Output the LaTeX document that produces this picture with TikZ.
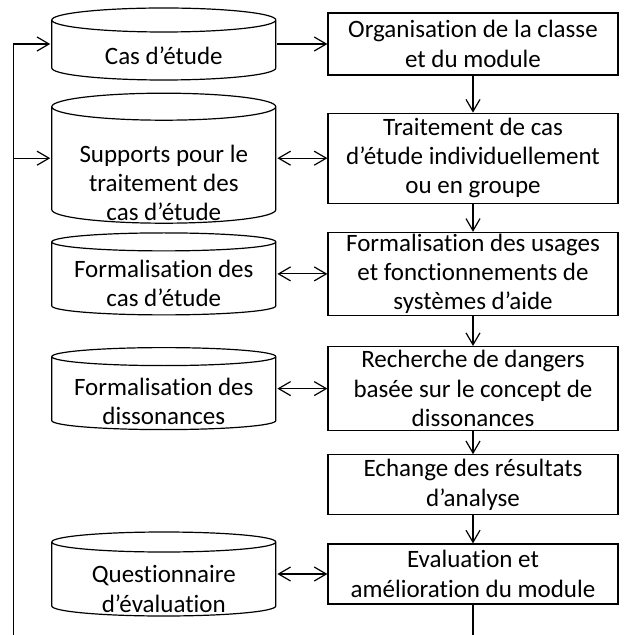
\documentclass[tikz,border=0pt]{standalone}
\usepackage{fontspec}
\setmainfont{Carlito}[Ligatures={TeX,NoCommon}]
\usetikzlibrary{positioning, arrows.meta}

\tikzset{cap radius/.store in=\caprad, cap radius=5.5pt}

\begin{document}
\begin{tikzpicture}[>={Straight Barb[length=6pt,width=7pt]}, line width=0.6pt]
\tikzstyle{actblock}=[draw, minimum width=145pt, align=center, inner xsep=1pt, inner ysep=0pt,
font=\fontsize{12.5}{14.6}\selectfont]
\tikzstyle{storetext}=[align=center, inner sep=0pt, font=\fontsize{12.5}{14.6}\selectfont]
\tikzstyle{datastore}=[minimum width=113pt, inner sep=0pt, node distance=25pt, path picture={
    \draw ([xshift=-56pt,yshift=-\caprad-0.5pt]path picture bounding box.north)
      -- ([xshift=-56pt,yshift=\caprad+0.5pt]path picture bounding box.south)
      arc[start angle=180, end angle=360, x radius=56pt, y radius=\caprad]
      -- ([xshift=56pt,yshift=-\caprad-0.5pt]path picture bounding box.north)
      arc[start angle=0, end angle=360, x radius=56pt, y radius=\caprad];
  }]

\useasboundingbox (0,0) rectangle (311.5pt,-317.5pt);

% activities
\node (org) [actblock, minimum height=31pt] at (236.5pt,-22pt) {Organisation de la classe\\et du module};
\node (trait) [actblock, minimum height=45pt, below=18.5pt of org] {Traitement de cas\\d’étude individuellement\\ou en groupe};
\node (usages) [actblock, minimum height=41.5pt, below=14pt of trait] {Formalisation des usages\\et fonctionnements de\\systèmes d’aide};
\node (danger) [actblock, minimum height=42pt, below=15pt of usages] {Recherche de dangers\\basée sur le concept de\\dissonances};
\node (echange) [actblock, minimum height=30pt, below=11.5pt of danger] {Echange des résultats\\d’analyse};
\node (eval) [actblock, minimum height=30pt, below=14pt of echange] {Evaluation et\\amélioration du module};

% data
\node (cas) [datastore, minimum height=37pt, cap radius=6pt, left=of org,
  label={[storetext, yshift=-6pt]center:Cas d’étude}] {};
\node (supp) [datastore, minimum height=66pt, cap radius=6.75pt, left=of trait,
  label={[storetext, yshift=-12.5pt]center:Supports pour le\\traitement des\\cas d’étude}] {};
\node (fcas) [datastore, minimum height=42pt, cap radius=4.5pt, left=of usages,
  label={[storetext, yshift=-4.75pt]center:Formalisation des\\cas d’étude}] {};
\node (fdis) [datastore, minimum height=42pt, cap radius=4.5pt, left=of danger,
  label={[storetext, yshift=-6.5pt]center:Formalisation des\\dissonances}] {};
\node (quest) [datastore, minimum height=43pt, cap radius=5pt, left=of eval,
  label={[storetext, yshift=-7.5pt]center:Questionnaire\\d’évaluation}] {};

% connections
\draw[->] (org) -- (trait);
\draw[->] (trait) -- (usages);
\draw[->] (usages) -- (danger);
\draw[->] (danger) -- (echange);
\draw[->] (echange) -- (eval);
\draw[->] (cas) -- (org);
\draw[<->] (supp) -- (trait);
\draw[<->] (fcas) -- (usages);
\draw[<->] (fdis) -- (danger);
\draw[<->] (quest) -- (eval);

% loop back
\coordinate (fb1) at ([xshift=-18.5pt]cas.west);
\coordinate (fb2) at (fb1 |- supp.west);
\coordinate (fbend) at (fb1 |- 0,-317.5pt);
\coordinate (outR) at (eval.south |- fbend);
\draw (fbend) -- (fb1);
\draw[->] (fb1) -- (cas.west);
\draw[->] (fb2) -- (supp.west);
\draw (eval.south) -- (outR);

\end{tikzpicture}
\end{document}
